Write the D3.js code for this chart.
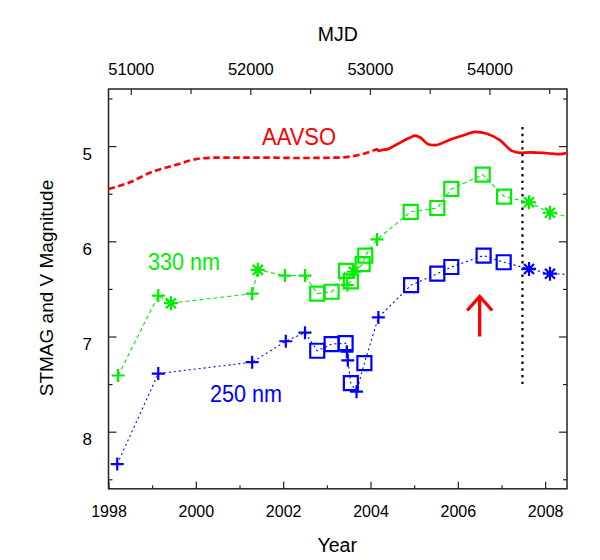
<!DOCTYPE html>
<html><head><meta charset="utf-8">
<script src="https://cdn.jsdelivr.net/npm/d3@7"></script>
<style>body{margin:0;background:#fff} svg{display:block} text{font-family:"Liberation Sans",Arial,Helvetica,sans-serif}</style>
</head><body><svg id="c" width="600" height="560"></svg>
<script>
// ---- data ----
const xMajorTicks = [1998, 2000, 2002, 2004, 2006, 2008];
const xMinorTicks = [1999, 2001, 2003, 2005, 2007];
const yMajorTicks = [5, 6, 7, 8];
const yMinorTicks = [4.5, 5.5, 6.5, 7.5, 8.5];
const mjdMajorTicks = [51000, 52000, 53000, 54000];
const mjdMinorTicks = [51500, 52500, 53500, 54500];

const greenYears = [1998.22, 1999.14, 1999.43, 2001.29, 2001.42, 2002.04, 2002.5, 2002.78, 2003.11, 2003.44, 2003.47, 2003.55, 2003.62, 2003.82, 2003.88, 2004.15, 2004.92, 2005.53, 2005.85, 2006.57, 2007.06, 2007.63, 2008.11, 2008.7];
const greenMags  = [7.41, 6.57, 6.65, 6.55, 6.30, 6.36, 6.36, 6.55, 6.53, 6.31, 6.46, 6.42, 6.32, 6.24, 6.15, 5.98, 5.69, 5.65, 5.45, 5.30, 5.53, 5.59, 5.70, 5.76];
const greenMarks = ["plus","plus","star","plus","star","plus","plus","square","square","square","plus","square","star","square","square","plus","square","square","square","square","square","star","star","star"];

const blueYears = [1998.2, 1999.14, 2001.29, 2002.06, 2002.5, 2002.78, 2003.11, 2003.43, 2003.46, 2003.48, 2003.55, 2003.68, 2003.86, 2004.18, 2004.93, 2005.53, 2005.85, 2006.59, 2007.05, 2007.63, 2008.11, 2008.7];
const blueMags  = [8.34, 7.39, 7.27, 7.05, 6.96, 7.15, 7.08, 7.07, 7.16, 7.25, 7.49, 7.58, 7.28, 6.80, 6.46, 6.34, 6.27, 6.15, 6.22, 6.29, 6.34, 6.35];
const blueMarks = ["plus","plus","plus","plus","plus","square","square","square","plus","plus","square","plus","square","plus","square","square","square","square","square","star","star","star"];

const aavsoYears = [1998.0, 1998.49, 1998.95, 1999.52, 2000.10, 2000.55, 2001.47, 2002.39, 2003.30, 2003.76, 2003.92, 2004.06, 2004.14, 2004.2, 2004.27, 2004.38, 2004.61, 2004.91, 2005.02, 2005.14, 2005.32, 2005.48, 2005.83, 2006.17, 2006.40, 2006.67, 2006.97, 2007.24, 2007.43, 2007.66, 2008.05, 2008.34, 2008.5];
const aavsoMags  = [5.45, 5.38, 5.28, 5.20, 5.13, 5.12, 5.12, 5.125, 5.12, 5.09, 5.07, 5.05, 5.035, 5.05, 5.04, 5.035, 4.98, 4.91, 4.89, 4.91, 4.98, 4.99, 4.93, 4.88, 4.85, 4.87, 4.94, 5.05, 5.07, 5.065, 5.075, 5.085, 5.07];
const aavsoDashedUntil = 2004.06;

const epochYear = 2007.48, epochFrom = 4.8, epochTo = 7.5;
const arrowYear = 2006.5, arrowFrom = 7.0, arrowTo = 6.58;

// ---- scales ----
const svg = d3.select("#c");
const L = 108.5, R = 567, T = 89, B = 488.8;
const x = d3.scaleLinear().domain([1998, 2008.5]).range([L, R]);
const y = d3.scaleLinear().domain([4.4, 8.6]).range([T, B]);
const mjdOf = yr => 51000 + (yr - 1998.51) * 365.25;
const xm = d3.scaleLinear().domain([mjdOf(1998), mjdOf(2008.5)]).range([L, R]);

svg.append("defs").append("clipPath").attr("id","clip")
  .append("rect").attr("x", L).attr("y", T).attr("width", R - L).attr("height", B - T);

// ---- axes ----
const axisCol = "#222";
function styleAxis(g, fs) {
  g.select(".domain").remove();
  g.selectAll("line").attr("stroke", axisCol).attr("stroke-width", 1.2);
  g.selectAll("text").attr("fill", "#000").style("font-size", fs + "px").attr("font-family", null);
}
svg.append("g").attr("transform", `translate(0,${B})`)
  .call(d3.axisBottom(x).tickValues(xMajorTicks).tickFormat(d3.format("d")).tickSize(-7).tickPadding(17))
  .call(g => styleAxis(g, 16));
svg.append("g").attr("transform", `translate(0,${B})`)
  .call(d3.axisBottom(x).tickValues(xMinorTicks).tickFormat("").tickSize(-3.5))
  .call(g => styleAxis(g, 16));
svg.append("g").attr("transform", `translate(0,${T})`)
  .call(d3.axisTop(xm).tickValues(mjdMajorTicks).tickFormat(d3.format("d")).tickSize(-6).tickPadding(14))
  .call(g => styleAxis(g, 16.5));
svg.append("g").attr("transform", `translate(0,${T})`)
  .call(d3.axisTop(xm).tickValues(mjdMinorTicks).tickFormat("").tickSize(-5))
  .call(g => styleAxis(g, 16));
svg.append("g").attr("transform", `translate(${L},0)`)
  .call(d3.axisLeft(y).tickValues(yMajorTicks).tickFormat(d3.format("d")).tickSize(-8).tickPadding(16.5))
  .call(g => { styleAxis(g, 17); g.selectAll("text").attr("dy", "0.78em"); });
svg.append("g").attr("transform", `translate(${L},0)`)
  .call(d3.axisLeft(y).tickValues(yMinorTicks).tickFormat("").tickSize(-4))
  .call(g => styleAxis(g, 16));
svg.append("g").attr("transform", `translate(${R},0)`)
  .call(d3.axisRight(y).tickValues(yMajorTicks).tickFormat("").tickSize(-8))
  .call(g => styleAxis(g, 16));
svg.append("g").attr("transform", `translate(${R},0)`)
  .call(d3.axisRight(y).tickValues(yMinorTicks).tickFormat("").tickSize(-4))
  .call(g => styleAxis(g, 16));

svg.append("rect").attr("x", L).attr("y", T).attr("width", R - L).attr("height", B - T)
  .attr("fill", "none").attr("stroke", axisCol).attr("stroke-width", 1.5);

// axis titles
svg.append("text").attr("x", (L + R) / 2 - 0.5).attr("y", 551.5).attr("text-anchor", "middle")
  .style("font-size", "19.5px").text("Year");
svg.append("text").attr("x", (L + R) / 2).attr("y", 40.5).attr("text-anchor", "middle")
  .style("font-size", "19.5px").text("MJD");
svg.append("text").attr("transform", "translate(52.5,288) rotate(-90)").attr("text-anchor", "middle")
  .style("font-size", "19px").text("STMAG and V Magnitude");

// ---- plot content ----
const plot = svg.append("g").attr("clip-path", "url(#clip)");

// AAVSO
const aav = aavsoYears.map((yr, i) => ({yr, m: aavsoMags[i]}));
const aLine = d3.line().x(d => x(d.yr)).y(d => y(d.m)).curve(d3.curveMonotoneX);
plot.append("path").attr("d", aLine(aav.filter(d => d.yr <= aavsoDashedUntil)))
  .attr("fill", "none").attr("stroke", "#ff0000").attr("stroke-width", 2.7).attr("stroke-dasharray", "6.5,3.5");
plot.append("path").attr("d", aLine(aav.filter(d => d.yr >= aavsoDashedUntil)))
  .attr("fill", "none").attr("stroke", "#ff0000").attr("stroke-width", 2.7);

// epoch vertical dotted line
plot.append("line").attr("x1", x(epochYear)).attr("x2", x(epochYear))
  .attr("y1", y(epochFrom)).attr("y2", y(epochTo))
  .attr("stroke", "#000").attr("stroke-width", 2.2).attr("stroke-dasharray", "2.4,4.3");

// series
const markerPath = {
  plus: "M-6.5,0H6.5M0,-6.5V6.5",
  star: "M-7,0H7M0,-7V7M-5,-5L5,5M-5,5L5,-5",
  square: "M-7,-7H7V7H-7Z"
};
function drawSeries(years, mags, marks, col, dash) {
  const pts = years.map((yr, i) => ({yr, m: mags[i], mk: marks[i]}));
  plot.append("path").attr("d", d3.line().x(d => x(d.yr)).y(d => y(d.m))(pts))
    .attr("fill", "none").attr("stroke", col).attr("stroke-width", 1.1).attr("stroke-dasharray", dash);
  plot.selectAll(null).data(pts).enter().append("path")
    .attr("transform", d => `translate(${x(d.yr)},${y(d.m)})`)
    .attr("d", d => markerPath[d.mk])
    .attr("fill", "none").attr("stroke", col).attr("stroke-width", 2.2);
}
drawSeries(greenYears, greenMags, greenMarks, "#00ee00", "4,3");
drawSeries(blueYears, blueMags, blueMarks, "#0000ff", "2,3");

// arrow
const ax = x(arrowYear);
plot.append("line").attr("x1", ax).attr("x2", ax).attr("y1", y(arrowFrom)).attr("y2", y(arrowTo) + 1)
  .attr("stroke", "#ff0000").attr("stroke-width", 3.3);
plot.append("path").attr("d", `M${ax - 12.5},${y(arrowTo) + 14}L${ax},${y(arrowTo)}L${ax + 12.5},${y(arrowTo) + 14}`)
  .attr("fill", "none").attr("stroke", "#ff0000").attr("stroke-width", 3.3);

// labels
svg.append("text").attr("x", 262).attr("y", 145).attr("fill", "#ff0000").style("font-size", "24px")
  .attr("textLength", 74).attr("lengthAdjust", "spacingAndGlyphs").text("AAVSO");
svg.append("text").attr("x", 148).attr("y", 269.5).attr("fill", "#00ee00").style("font-size", "24px")
  .attr("textLength", 72).attr("lengthAdjust", "spacingAndGlyphs").text("330 nm");
svg.append("text").attr("x", 210).attr("y", 402).attr("fill", "#0000ff").style("font-size", "24px")
  .attr("textLength", 72).attr("lengthAdjust", "spacingAndGlyphs").text("250 nm");
</script></body></html>
